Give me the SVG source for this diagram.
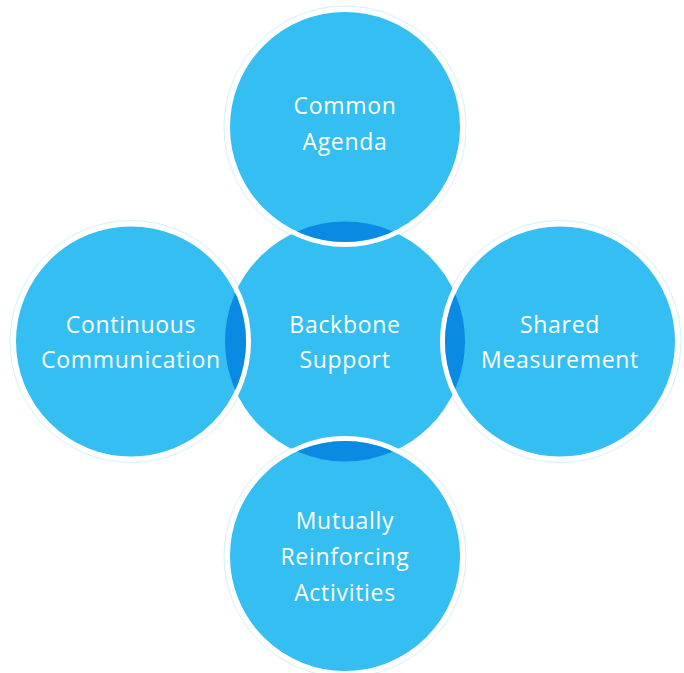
<svg xmlns="http://www.w3.org/2000/svg" width="684" height="673" viewBox="0 0 684 673">
  <style>
    .ring { fill: none; stroke: #d3f0fb; stroke-width: 1; }
    .outer { fill: #34bef1; stroke: #ffffff; stroke-width: 5; }
    .core { fill: #34bef1; }
    .lens { fill: #0b8ae4; }
    .label { font-family: "Open Sans", "Liberation Sans", sans-serif; font-size: 23px; fill: #ffffff; text-anchor: middle; letter-spacing: 0.7px; }
  </style>
  <defs>
    <clipPath id="clipTop"><circle cx="345" cy="127" r="115"/></clipPath>
    <clipPath id="clipLeft"><circle cx="131" cy="341.5" r="115"/></clipPath>
    <clipPath id="clipRight"><circle cx="560" cy="341.5" r="115"/></clipPath>
    <clipPath id="clipBottom"><circle cx="345" cy="556" r="115"/></clipPath>
  </defs>
  <rect width="684" height="673" fill="#ffffff"/>
  <g id="rings">
    <circle class="ring" cx="345" cy="127" r="121"/>
    <circle class="ring" cx="131" cy="341.5" r="121"/>
    <circle class="ring" cx="560" cy="341.5" r="121"/>
    <circle class="ring" cx="345" cy="556" r="121"/>
  </g>
  <g id="backbone">
    <circle class="core" cx="345" cy="341.5" r="120"/>
    <text class="label" x="345" y="333">Backbone</text>
    <text class="label" x="345" y="368">Support</text>
  </g>
  <g id="common-agenda">
    <circle class="outer" cx="345" cy="127" r="117.5"/>
    <circle class="lens" cx="345" cy="341.5" r="120" clip-path="url(#clipTop)"/>
    <text class="label" x="345" y="114">Common</text>
    <text class="label" x="345" y="150">Agenda</text>
  </g>
  <g id="continuous-communication">
    <circle class="outer" cx="131" cy="341.5" r="117.5"/>
    <circle class="lens" cx="345" cy="341.5" r="120" clip-path="url(#clipLeft)"/>
    <text class="label" x="131" y="333">Continuous</text>
    <text class="label" x="131" y="368">Communication</text>
  </g>
  <g id="shared-measurement">
    <circle class="outer" cx="560" cy="341.5" r="117.5"/>
    <circle class="lens" cx="345" cy="341.5" r="120" clip-path="url(#clipRight)"/>
    <text class="label" x="560" y="333">Shared</text>
    <text class="label" x="560" y="368">Measurement</text>
  </g>
  <g id="mutually-reinforcing-activities">
    <circle class="outer" cx="345" cy="556" r="117.5"/>
    <circle class="lens" cx="345" cy="341.5" r="120" clip-path="url(#clipBottom)"/>
    <text class="label" x="345" y="529">Mutually</text>
    <text class="label" x="345" y="565">Reinforcing</text>
    <text class="label" x="345" y="601">Activities</text>
  </g>
  <g id="connectors"/>
</svg>
